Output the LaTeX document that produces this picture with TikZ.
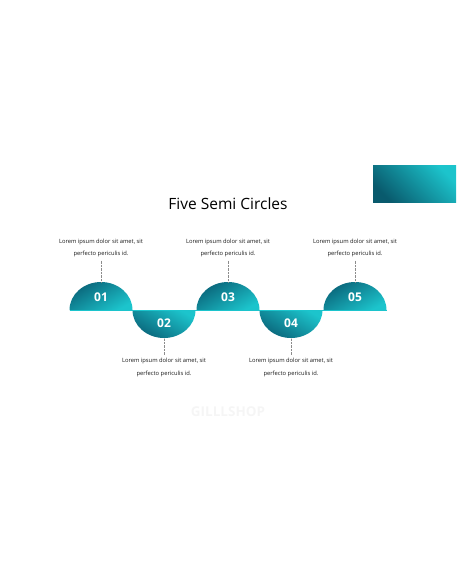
\documentclass[tikz,border=0pt]{standalone}
\usepackage{fontspec}
\setmainfont{Open Sans}
\definecolor{tealdark}{HTML}{0A6479}
\definecolor{teallight}{HTML}{1CC4CC}

\begin{document}
\begin{tikzpicture}[x=1pt,y=-1pt,
        desc/.style={align=center,font=\fontsize{5.8}{12.5}\selectfont,text=black!90},
        num/.style={text=white,font=\fontsize{12}{12}\selectfont\bfseries},
        link/.style={densely dotted,black!45,line width=0.4pt}]
        \useasboundingbox (0,0) rectangle (456,586);
        % corner box and title
        \shade[top color=teallight,bottom color=tealdark!90!black,shading angle=-45] (373,165) rectangle (456,202);
        \node (title) at (228,204) {\fontsize{15.5}{16}\selectfont Five Semi Circles};
        % semi circles
        \shade[top color=tealdark,bottom color=teallight,shading angle=30] (69.5,310) arc[start angle=180,end angle=360,x radius=31.5,y radius=28] -- cycle;
        \shade[top color=teallight,bottom color=tealdark,shading angle=-30] (132.5,310) arc[start angle=180,end angle=0,x radius=31.5,y radius=28] -- cycle;
        \shade[top color=tealdark,bottom color=teallight,shading angle=30] (196.5,310) arc[start angle=180,end angle=360,x radius=31.5,y radius=28] -- cycle;
        \shade[top color=teallight,bottom color=tealdark,shading angle=-30] (259.5,310) arc[start angle=180,end angle=0,x radius=31.5,y radius=28] -- cycle;
        \shade[top color=tealdark,bottom color=teallight,shading angle=30] (323.5,310) arc[start angle=180,end angle=360,x radius=31.5,y radius=28] -- cycle;
        \draw[teallight,line width=0.8pt] (69.5,310) -- (386.5,310);
        \node[num] (n1) at (101,297) {01};
        \node[num] (n2) at (164,323.5) {02};
        \node[num] (n3) at (228,297) {03};
        \node[num] (n4) at (291,323.5) {04};
        \node[num] (n5) at (355,297) {05};
        \coordinate (c1) at (101,282);
        \coordinate (c2) at (164,338);
        \coordinate (c3) at (228,282);
        \coordinate (c4) at (291,338);
        \coordinate (c5) at (355,282);
        % texts
        \node[desc] (t1) at (101,248) {Lorem ipsum dolor sit amet, sit\\perfecto periculis id.};
        \node[desc] (t2) at (164,367.5) {Lorem ipsum dolor sit amet, sit\\perfecto periculis id.};
        \node[desc] (t3) at (228,248) {Lorem ipsum dolor sit amet, sit\\perfecto periculis id.};
        \node[desc] (t4) at (291,367.5) {Lorem ipsum dolor sit amet, sit\\perfecto periculis id.};
        \node[desc] (t5) at (355,248) {Lorem ipsum dolor sit amet, sit\\perfecto periculis id.};
        \draw[link] (t1) -- (c1);
        \draw[link] (t2) -- (c2);
        \draw[link] (t3) -- (c3);
        \draw[link] (t4) -- (c4);
        \draw[link] (t5) -- (c5);
        \node[text=black!4,font=\fontsize{13.5}{14}\selectfont\bfseries] (mark) at (228,412) {GILLLSHOP};
    \end{tikzpicture}
\end{document}
